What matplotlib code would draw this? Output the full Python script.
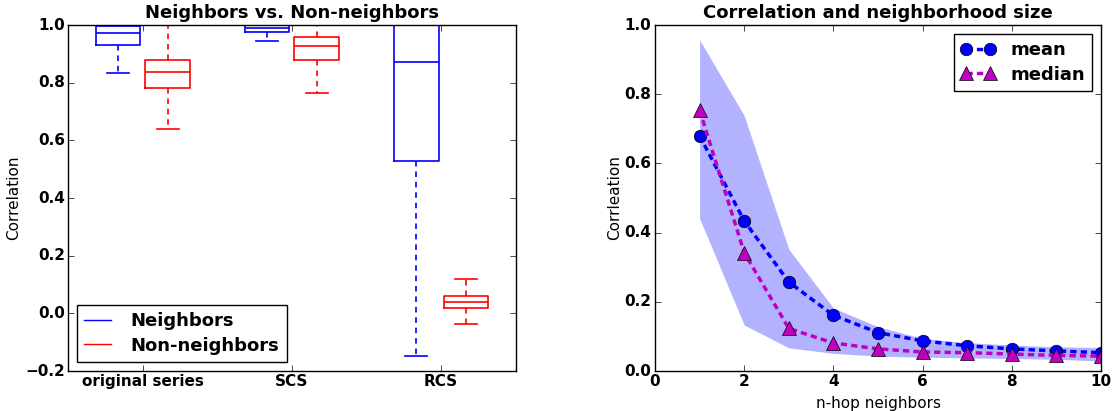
import matplotlib
matplotlib.use('Agg')
import matplotlib.pyplot as plt
from matplotlib.lines import Line2D

# ---- data: left panel (box statistics) ----
groups = ['original series', 'SCS', 'RCS']
nb_q1 = [0.930, 0.977, 0.528]
nb_med = [0.971, 0.990, 0.873]
nb_q3 = [0.998, 0.999, 1.000]
nb_lo = [0.832, 0.946, -0.148]
nb_hi = [1.000, 1.000, 1.000]
nn_q1 = [0.780, 0.880, 0.020]
nn_med = [0.838, 0.929, 0.039]
nn_q3 = [0.877, 0.960, 0.060]
nn_lo = [0.638, 0.763, -0.037]
nn_hi = [1.000, 1.000, 0.118]

# ---- data: right panel ----
hops = [1, 2, 3, 4, 5, 6, 7, 8, 9, 10]
mean_corr = [0.680, 0.434, 0.257, 0.161, 0.111, 0.087, 0.073, 0.064, 0.058, 0.053]
median_corr = [0.754, 0.342, 0.123, 0.081, 0.064, 0.055, 0.053, 0.049, 0.045, 0.043]
band_hi = [0.957, 0.738, 0.352, 0.182, 0.128, 0.094, 0.082, 0.075, 0.070, 0.068]
band_lo = [0.441, 0.133, 0.067, 0.051, 0.043, 0.040, 0.038, 0.036, 0.034, 0.029]

plt.style.use('classic')
plt.rcParams['font.family'] = ['DejaVu Sans']
plt.rcParams['font.weight'] = 'bold'
plt.rcParams['font.size'] = 11
plt.rcParams['xtick.major.pad'] = 2.5
plt.rcParams['ytick.major.pad'] = 2.5

fig = plt.figure(figsize=(11.17, 4.11), dpi=100)
fig.patch.set_facecolor('white')
ax1 = fig.add_axes([0.0611, 0.0973, 0.4005, 0.8418])
ax2 = fig.add_axes([0.5864, 0.0973, 0.3993, 0.8418])

def stats(q1, med, q3, lo, hi):
    return [dict(q1=a, med=b, q3=c, whislo=d, whishi=e, fliers=[])
            for a, b, c, d, e in zip(q1, med, q3, lo, hi)]

off = 0.167
pos = list(range(1, len(groups) + 1))
for st, col, sgn in [(stats(nb_q1, nb_med, nb_q3, nb_lo, nb_hi), 'b', -1),
                     (stats(nn_q1, nn_med, nn_q3, nn_lo, nn_hi), 'r', 1)]:
    ax1.bxp(st, positions=[p + sgn * off for p in pos], widths=0.3,
            showfliers=False, manage_ticks=False,
            boxprops=dict(color=col, lw=1.2),
            whiskerprops=dict(color=col, lw=1.2, linestyle=(0, (4, 3.5))),
            capprops=dict(color=col, lw=1.2),
            medianprops=dict(color=col, lw=1.2))

ax1.set_xlim(0.5, 3.5)
ax1.set_ylim(-0.2, 1.0)
ax1.set_xticks(pos)
ax1.set_xticklabels(groups)
yt1 = [-0.2, 0.0, 0.2, 0.4, 0.6, 0.8, 1.0]
ax1.set_yticks(yt1)
ax1.set_yticklabels(['%.1f' % v if v >= 0 else '\u2212%.1f' % -v for v in yt1])
ax1.set_ylabel('Correlation', fontweight='normal', fontsize=11, labelpad=2.5)
ax1.set_title('Neighbors vs. Non-neighbors', fontweight='bold', fontsize=13)
h = [Line2D([], [], color='b', lw=1), Line2D([], [], color='r', lw=1)]
ax1.legend(h, ['Neighbors', 'Non-neighbors'], loc='lower left',
           prop=dict(size=13, weight='bold'), handlelength=1.45,
           handletextpad=1.1, labelspacing=0.35, numpoints=1)

ax2.fill_between(hops, band_lo, band_hi, color='b', alpha=0.3, lw=0)
ax2.plot(hops, mean_corr, color='b', linestyle='--', dashes=(4.5, 3), lw=2.5,
         marker='o', markersize=9, markeredgewidth=0.5, label='mean')
ax2.plot(hops, median_corr, color='m', linestyle='--', dashes=(4.5, 3), lw=2.5,
         marker='^', markersize=9.5, markeredgewidth=0.5, label='median')
ax2.set_xlim(0, 10)
ax2.set_ylim(0, 1.0)
ax2.set_xticks([0, 2, 4, 6, 8, 10])
ax2.set_yticks([0.0, 0.2, 0.4, 0.6, 0.8, 1.0])
ax2.set_xlabel('n-hop neighbors', fontweight='normal', fontsize=11)
ax2.set_ylabel('Corrleation', fontweight='normal', fontsize=11, labelpad=2)
ax2.set_title('Correlation and neighborhood size', fontweight='bold', fontsize=13)
ax2.legend(loc='upper right', prop=dict(size=13, weight='bold'), numpoints=2,
           handlelength=1.93, handletextpad=0.8, labelspacing=0.35)

fig.savefig('out.png', dpi=100, facecolor='white')
